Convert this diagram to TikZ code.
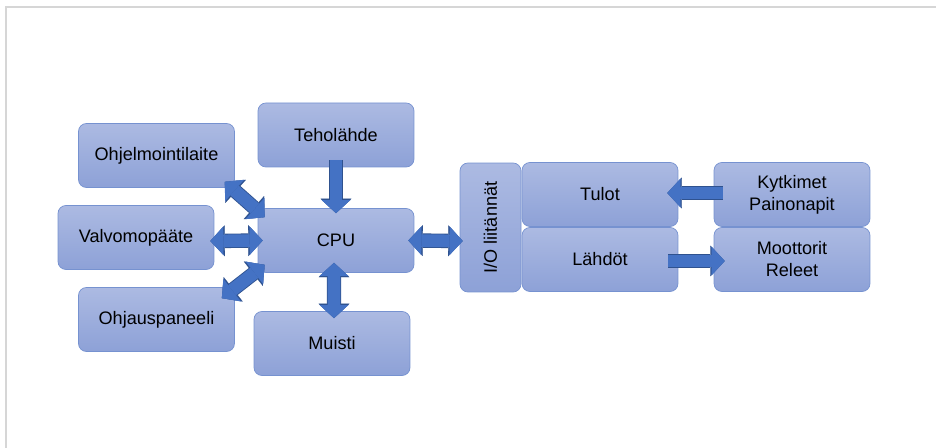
\documentclass[tikz,border=0pt]{standalone}
\usepackage{fontspec}
\setmainfont{Liberation Sans}
\usepackage{tikz}
\usepackage{xcolor}
\usetikzlibrary{arrows.meta, positioning, calc}
\definecolor{cTop}{RGB}{172,186,226}
\definecolor{cBot}{RGB}{141,161,215}
\definecolor{cEdge}{RGB}{118,146,208}
\definecolor{cArrow}{RGB}{68,114,196}
\definecolor{cArrowEdge}{RGB}{47,82,143}
\definecolor{cFrame}{RGB}{214,214,214}
\tikzset{
	blok/.style={rectangle, rounded corners=4.5pt, minimum width=3.12cm, minimum height=1.28cm, text centered, align=center, draw=cEdge, top color=cTop, bottom color=cBot, font=\fontsize{10.3}{12.5}\selectfont, inner sep=2pt},
	iobox/.style={blok, minimum width=2.58cm, minimum height=1.22cm, rotate=90},
	% block arrows
	barrow/.style={draw=cArrow, line width=7.2pt, -{Triangle[length=7.4pt, width=16.2pt, line width=0.1pt]},
		preaction={draw=cArrowEdge, line width=8.2pt, -{Triangle[length=8.2pt, width=17.6pt, line width=0.1pt]}}},
	dbarrow/.style={draw=cArrow, line width=7.2pt, {Triangle[length=7.4pt, width=16.2pt, line width=0.1pt]}-{Triangle[length=7.4pt, width=16.2pt, line width=0.1pt]},
		preaction={draw=cArrowEdge, line width=8.2pt, {Triangle[length=8.2pt, width=17.6pt, line width=0.1pt]}-{Triangle[length=8.2pt, width=17.6pt, line width=0.1pt]}}},
}
\begin{document}
\begin{tikzpicture}[x=0.02cm, y=-0.02cm]
	\useasboundingbox (0,0) rectangle (936,448);
	\draw[cFrame, line width=0.8pt] (6,448) -- (6,7) -- (936,7);

	\node[blok] (ohjelm) at (156.5,155.5) {Ohjelmointilaite};
	\node[blok] (teho) at (336,135) {Teholähde};
	\node[blok] (valvo) at (136,237.5) {Valvomopääte};
	\node[blok] (cpu) at (336,240.5) {CPU};
	\node[blok] (ohjaus) at (156.5,319.5) {Ohjauspaneeli};
	\node[blok] (muisti) at (332,343.5) {Muisti};
	\node[iobox] (io) at (490.5,227.5) {I/O liitännät};
	\node[blok] (tulot) at (600,194.5) {Tulot};
	\node[blok] (lahdot) at (600,259.5) {Lähdöt};
	\node[blok] (kytk) at (792,194.5) {Kytkimet\\Painonapit};
	\node[blok] (moott) at (792,259.5) {Moottorit\\Releet};

	\draw[barrow] ([yshift=0.14cm]teho.south) -- ([yshift=-0.1cm]cpu.north);
	\draw[dbarrow] ([xshift=-0.04cm, yshift=0.2cm]cpu.south) -- ([xshift=0.04cm, yshift=-0.14cm]muisti.north);
	\draw[dbarrow] ([xshift=-0.08cm, yshift=-0.07cm]valvo.east) -- ([xshift=0.1cm]cpu.west);
	\draw[dbarrow] ([xshift=-0.2cm, yshift=0.12cm]ohjelm.south east) -- ([xshift=0.14cm, yshift=-0.18cm]cpu.north west);
	\draw[dbarrow] ([xshift=0.14cm, yshift=0.16cm]cpu.south west) -- ([xshift=-0.26cm, yshift=-0.22cm]ohjaus.north east);
	\draw[dbarrow] ([xshift=-0.12cm]cpu.east) -- ([xshift=0.06cm, yshift=-0.27cm]io.north);
	\draw[barrow] ([xshift=0.18cm, yshift=0.03cm]kytk.west) -- ([xshift=-0.22cm, yshift=0.03cm]tulot.east);
	\draw[barrow] ([xshift=-0.2cm, yshift=-0.03cm]lahdot.east) -- ([xshift=0.22cm, yshift=-0.03cm]moott.west);
\end{tikzpicture}
\end{document}
